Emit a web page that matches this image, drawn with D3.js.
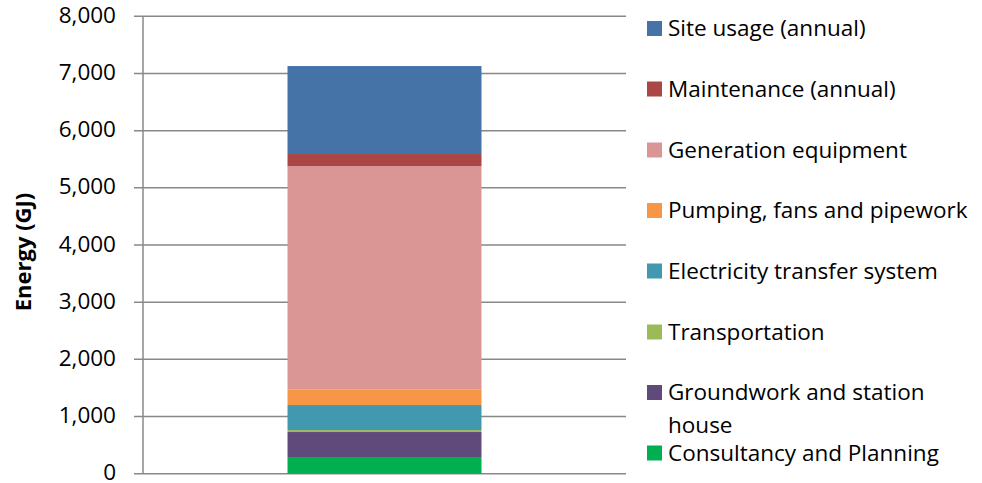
<!DOCTYPE html>
<html>
<head>
<meta charset="utf-8">
<script src="https://cdn.jsdelivr.net/npm/d3@7"></script>
<style>
  body { margin: 0; background: #fff; }
  svg text { font-family: "Open Sans", Lato, sans-serif; fill: #000; }
</style>
</head>
<body>
<svg id="chart" width="982" height="483"></svg>
<script>
// segments bottom to top
var categories = ["Consultancy and Planning", "Groundwork and station house", "Transportation",
  "Electricity transfer system", "Pumping, fans and pipework", "Generation equipment",
  "Maintenance (annual)", "Site usage (annual)"];
var values = [292, 437, 35, 437, 268, 3912, 210, 1539];
var colors = ["#00B050", "#604A7B", "#9BBB59", "#4198AF", "#F79646", "#DA9694", "#AA4643", "#4572A7"];
var yTicks = [0, 1000, 2000, 3000, 4000, 5000, 6000, 7000, 8000];

var svg = d3.select("#chart");

var plot = { left: 143, right: 626, top: 16.3, bottom: 473.7 };

var y = d3.scaleLinear()
  .domain([0, 8000])
  .range([plot.bottom, plot.top]);

var x = d3.scaleBand()
  .domain(["total"])
  .range([plot.left, plot.right])
  .paddingInner(0)
  .paddingOuter(0.745);

// gridlines
svg.append("g")
  .selectAll("line")
  .data(yTicks)
  .enter().append("line")
  .attr("x1", plot.left - 9)
  .attr("x2", plot.right)
  .attr("y1", d => y(d))
  .attr("y2", d => y(d))
  .attr("stroke", "#888")
  .attr("stroke-width", 1.5);

// stack the segments
var stacked = [];
var acc = 0;
values.forEach(function(v, i) {
  stacked.push({ name: categories[i], y0: acc, y1: acc + v, color: colors[i] });
  acc += v;
});

svg.append("g")
  .selectAll("rect")
  .data(stacked)
  .enter().append("rect")
  .attr("x", x("total"))
  .attr("width", x.bandwidth())
  .attr("y", d => y(d.y1))
  .attr("height", d => y(d.y0) - y(d.y1))
  .attr("fill", d => d.color);

// y axis line
svg.append("line")
  .attr("x1", plot.left).attr("x2", plot.left)
  .attr("y1", plot.top).attr("y2", plot.bottom)
  .attr("stroke", "#888")
  .attr("stroke-width", 1.5);

// tick labels
svg.append("g")
  .selectAll("text")
  .data(yTicks)
  .enter().append("text")
  .attr("x", 116)
  .attr("y", d => y(d))
  .attr("dy", "0.29em")
  .attr("text-anchor", "end")
  .style("font-size", "22.5px")
  .text(d3.format(","));

// axis title
svg.append("text")
  .attr("transform", "translate(31,252) rotate(-90)")
  .attr("text-anchor", "middle")
  .style("font-size", "22px")
  .style("font-weight", "bold")
  .text("Energy (GJ)");

// legend, top to bottom
var legendItems = stacked.slice().reverse();
var legendY = [28.5, 89, 150, 210.5, 271, 332, 392.5, 453];

var legend = svg.append("g")
  .selectAll("g")
  .data(legendItems)
  .enter().append("g")
  .attr("transform", (d, i) => "translate(647," + legendY[i] + ")");

legend.append("rect")
  .attr("x", 0)
  .attr("y", -7.5)
  .attr("width", 15)
  .attr("height", 15)
  .attr("fill", d => d.color);

legend.append("text")
  .attr("x", 21)
  .attr("dy", "0.35em")
  .style("font-size", "22.5px")
  .each(function(d) {
    var t = d3.select(this);
    if (d.name === "Groundwork and station house") {
      t.append("tspan").attr("x", 21).text("Groundwork and station");
      t.append("tspan").attr("x", 21).attr("dy", "1.43em").text("house");
    } else {
      t.text(d.name);
    }
  });
</script>
</body>
</html>
